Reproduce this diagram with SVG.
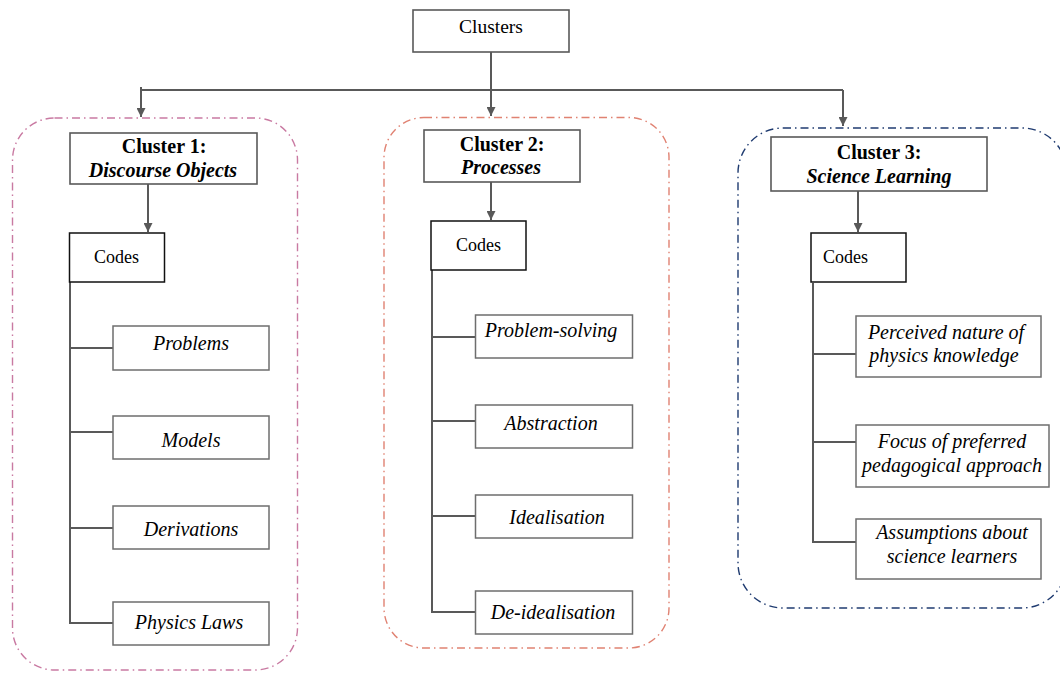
<svg xmlns="http://www.w3.org/2000/svg" width="1060" height="675" viewBox="0 0 1060 675">
<defs>
<marker id="ah" viewBox="0 0 10 10" refX="10" refY="5" markerWidth="9" markerHeight="9" markerUnits="userSpaceOnUse" orient="auto">
<path d="M0,0 L10,5 L0,10 z" fill="#595959"/>
</marker>
<style>
.t{font-family:"Liberation Serif","Times New Roman",serif;fill:#000;text-anchor:middle}
.r{font-size:19.5px}
.c{font-size:18px;text-anchor:start}
.h{font-size:20px;font-weight:bold}
.hi{font-size:20px;font-weight:bold;font-style:italic}
.i{font-size:20px;font-style:italic}
.box{fill:#fff;stroke:#6e6e6e;stroke-width:1.5}
.hbox{fill:#fff;stroke:#595959;stroke-width:1.6}
.cbox{fill:#fff;stroke:#111;stroke-width:1.5}
.ln{fill:none;stroke:#595959;stroke-width:2}
.grp{fill:none;stroke-width:1.4;stroke-dasharray:8 4 1.5 4}
</style>
</defs>
<rect width="1060" height="675" fill="#fff"/>

<g id="cluster-frames">
<rect x="12.5" y="118" width="285" height="552" rx="42" ry="42" class="grp" stroke="#c97aa2"/>
<rect x="384" y="117.5" width="285" height="530.5" rx="40" ry="40" class="grp" stroke="#e08272"/>
<rect x="738" y="128" width="329" height="480" rx="45" ry="45" class="grp" stroke="#1f3b70"/>
</g>

<g id="connectors">
<path class="ln" d="M491,52 V90 M141,87 V90 H843"/>
<path class="ln" d="M141,90 V117" marker-end="url(#ah)"/>
<path class="ln" d="M491,90 V116" marker-end="url(#ah)"/>
<path class="ln" d="M843,90 V126" marker-end="url(#ah)"/>
<path class="ln" d="M148,184 V232" marker-end="url(#ah)"/>
<path class="ln" d="M491,182 V220" marker-end="url(#ah)"/>
<path class="ln" d="M858,191 V232" marker-end="url(#ah)"/>
<path class="ln" d="M70,282 V623 H113 M70,348 H113 M70,432 H113 M70,528 H113"/>
<path class="ln" d="M432,270 V612 H475 M432,337 H475 M432,421 H475 M432,516 H475"/>
<path class="ln" d="M813,283 V542 H856 M813,354 H856 M813,442 H856"/>
</g>

<g id="clusters">
<rect class="hbox" x="413" y="10" width="156" height="42"/>
<text class="t r" x="491" y="33">Clusters</text>
</g>

<g id="cluster1">
<rect class="hbox" x="70" y="133" width="187" height="51"/>
<text class="t h" x="164" y="153">Cluster 1:</text>
<text class="t hi" x="163" y="177">Discourse Objects</text>
</g>
<g id="cluster2">
<rect class="hbox" x="424" y="130" width="156" height="52"/>
<text class="t h" x="502" y="151">Cluster 2:</text>
<text class="t hi" x="501" y="174">Processes</text>
</g>
<g id="cluster3">
<rect class="hbox" x="771" y="137" width="216" height="54"/>
<text class="t h" x="879" y="159">Cluster 3:</text>
<text class="t hi" x="879" y="183">Science Learning</text>
</g>

<g id="codes1">
<rect class="cbox" x="69.5" y="233" width="95" height="49"/>
<text class="t c" x="94" y="263">Codes</text>
</g>
<g id="codes2">
<rect class="cbox" x="431" y="221" width="95" height="49"/>
<text class="t c" x="456" y="251">Codes</text>
</g>
<g id="codes3">
<rect class="cbox" x="811" y="233" width="95" height="49"/>
<text class="t c" x="823" y="263">Codes</text>
</g>

<g id="problems">
<rect class="box" x="113" y="326" width="156" height="44"/>
<text class="t i" x="191" y="350">Problems</text>
</g>
<g id="models">
<rect class="box" x="113" y="416" width="156" height="43"/>
<text class="t i" x="191" y="447">Models</text>
</g>
<g id="derivations">
<rect class="box" x="113" y="506" width="156" height="43"/>
<text class="t i" x="191" y="536">Derivations</text>
</g>
<g id="physics-laws">
<rect class="box" x="113" y="602" width="156" height="43"/>
<text class="t i" x="189" y="629">Physics Laws</text>
</g>

<g id="problem-solving">
<rect class="box" x="475.5" y="315" width="157" height="43"/>
<text class="t i" x="551" y="337">Problem-solving</text>
</g>
<g id="abstraction">
<rect class="box" x="475.5" y="405" width="157" height="43"/>
<text class="t i" x="551" y="430">Abstraction</text>
</g>
<g id="idealisation">
<rect class="box" x="475.5" y="495" width="157" height="43"/>
<text class="t i" x="557" y="524">Idealisation</text>
</g>
<g id="de-idealisation">
<rect class="box" x="475.5" y="591" width="157" height="43"/>
<text class="t i" x="553" y="619">De-idealisation</text>
</g>

<g id="perceived-nature">
<rect class="box" x="856" y="316" width="185" height="61"/>
<text class="t i" x="946" y="339">Perceived nature of</text>
<text class="t i" x="944" y="362">physics knowledge</text>
</g>
<g id="focus-pedagogical">
<rect class="box" x="856" y="425" width="193" height="62"/>
<text class="t i" x="952" y="448">Focus of preferred</text>
<text class="t i" x="952" y="472">pedagogical approach</text>
</g>
<g id="assumptions-learners">
<rect class="box" x="856" y="519" width="185" height="60"/>
<text class="t i" x="952" y="539">Assumptions about</text>
<text class="t i" x="952" y="563">science learners</text>
</g>
</svg>
